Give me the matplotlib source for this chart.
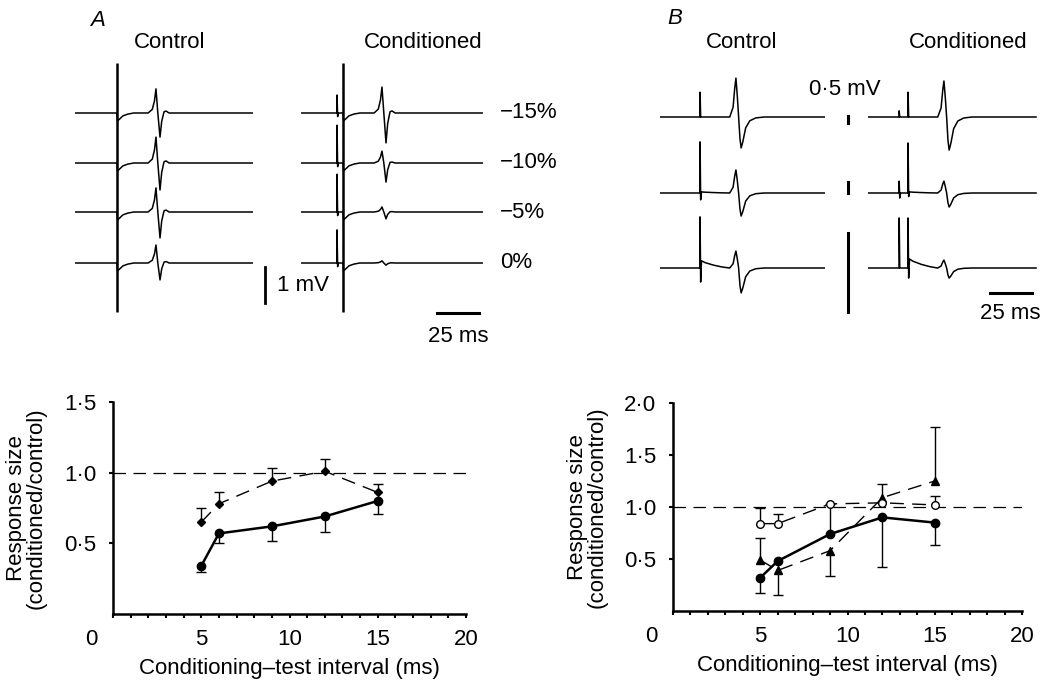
import matplotlib.pyplot as plt
import numpy as np
from matplotlib.ticker import FuncFormatter, MultipleLocator

plt.rcParams['font.family'] = ['Liberation Sans', 'DejaVu Sans']
plt.rcParams['font.size'] = 16

W, H = 1051, 681
MS_PX = 42 / 25   # px per ms (25 ms bar)
MV_PX = 36        # px per mV (1 mV bar)

## DATA: summary plots
intervals = [5, 6, 9, 12, 15]

# A: filled circles (solid line) and small diamonds (dashed line)
a_solid = [0.34, 0.57, 0.62, 0.69, 0.80]
a_solid_lo = [0.04, 0.07, 0.10, 0.11, 0.09]
a_solid_hi = [0.0, 0.0, 0.0, 0.0, 0.0]
a_dash = [0.65, 0.78, 0.94, 1.01, 0.86]
a_dash_lo = [0.0, 0.0, 0.0, 0.0, 0.0]
a_dash_hi = [0.10, 0.08, 0.09, 0.09, 0.06]

# B: filled circles, filled triangles, open circles
b_filled = [0.32, 0.48, 0.74, 0.90, 0.85]
b_filled_lo = [0.15, 0.0, 0.0, 0.48, 0.22]
b_filled_hi = [0.0, 0.0, 0.29, 0.0, 0.0]
b_tri = [0.49, 0.39, 0.58, 1.09, 1.25]
b_tri_lo = [0.0, 0.24, 0.24, 0.0, 0.0]
b_tri_hi = [0.21, 0.0, 0.0, 0.13, 0.52]
b_open = [0.84, 0.84, 1.03, 1.04, 1.02]
b_open_lo = [0.0, 0.0, 0.0, 0.0, 0.0]
b_open_hi = [0.15, 0.09, 0.0, 0.0, 0.09]

## DATA: traces (ms from sweep start, mV)
a_levels = ['\u221215%', '\u221210%', '\u22125%', '0%']
a_ctrl_up = [0.67, 0.72, 0.67, 0.50]
a_ctrl_down = [0.67, 0.75, 0.72, 0.47]
a_cond_up = [0.72, 0.33, 0.14, 0.06]
a_cond_down = [0.83, 0.53, 0.19, 0.06]
a_cond_art = [0.50, 1.05, 1.05, 0.92]   # conditioning artefact height

a_wave_t = [43.5, 46.0, 47.3, 48.2, 49.3, 50.6, 51.6, 53.0, 54.2, 56.0]
a_wave_v = [0, 0.15, 0.5, 1.0, 0, -1.0, -0.35, 0.05, 0.08, 0]
a_dip_t = [25.0, 25.3, 26.5, 28.5, 31.5, 35.0]
a_dip_v = [0, -0.22, -0.17, -0.08, -0.03, 0]

b_ctrl_art_up = [0.69, 1.42, 1.42]
b_ctrl_art_down = [0.0, 0.19, 0.39]
b_ctrl_tail = [0.0, 0.03, 0.20]
b_ctrl_up = [1.08, 0.64, 0.47]
b_ctrl_down = [0.86, 0.64, 0.69]
b_cond_pre_up = [0.17, 0.33, 1.39]
b_cond_pre_down = [0.0, 0.14, 0.0]
b_cond_art_up = [0.69, 1.39, 1.39]
b_cond_art_down = [0.0, 0.10, 0.28]
b_cond_tail = [0.0, 0.03, 0.25]
b_cond_up = [1.00, 0.33, 0.22]
b_cond_down = [0.92, 0.39, 0.28]

b_wave_t = [41.5, 43.5, 44.5, 45.2, 46.0, 46.8, 47.6, 48.3, 49.3, 51.0, 53.5, 57.0, 62.0]
b_wave_v = [0, 0.25, 0.75, 1.0, 0.55, 0, -0.7, -1.0, -0.8, -0.35, -0.12, -0.03, 0]
tail_dt = [0.9, 3.0, 8.0, 13.0, 17.5]
tail_f = [1.0, 0.75, 0.4, 0.15, 0.0]

fig = plt.figure(figsize=(W / 100, H / 100), dpi=100)


def px_axes(x0, y0, x1, y1):
    return fig.add_axes([x0 / W, 1 - y1 / H, (x1 - x0) / W, (y1 - y0) / H])


def trace_axes(x0, y0, x1, y1):
    ax = px_axes(x0, y0, x1, y1)
    ax.set_xlim(0, (x1 - x0) / MS_PX)
    ax.set_ylim(0, (y1 - y0) / MV_PX)
    ax.axis('off')
    return ax


def scaled(vals, up, down):
    return [v * up if v > 0 else v * down for v in vals]


def spike(t0, up, down, after=0.0):
    return [t0, t0 + 0.05, t0 + 0.4, t0 + 0.9], [0, up, -down, after]


def sweep(parts, t_end):
    t, v = [0.0], [0.0]
    for pt, pv in parts:
        t += list(pt)
        v += list(pv)
    t.append(t_end)
    v.append(0.0)
    return np.array(t), np.array(v)


def ftext(x, y, s, **kw):
    fig.text(x / W, 1 - y / H, s, **kw)


TR = dict(color='black', lw=1.1)

# ---------- A traces ----------
a_rows = [113, 163, 212, 263]
ax = trace_axes(75, 55, 253, 320)
for i, yb in enumerate(a_rows):
    base = (320 - yb) / MV_PX
    t, v = sweep([(a_dip_t, a_dip_v),
                  (a_wave_t, scaled(a_wave_v, a_ctrl_up[i], a_ctrl_down[i]))], 106)
    ax.plot(t, v + base, **TR)
ax.vlines(25, (320 - 312) / MV_PX, (320 - 63) / MV_PX, color='black', lw=1.8)
ax.plot([113, 113], [0.47, 1.47], color='black', lw=2.0, clip_on=False)
ax.text(120, 0.97, '1 mV', ha='left', va='center')

ax = trace_axes(301, 55, 483, 320)
for i, yb in enumerate(a_rows):
    base = (320 - yb) / MV_PX
    ct, cv = spike(21.4, a_cond_art[i], 0.1)
    t, v = sweep([(ct, cv), (a_dip_t, a_dip_v),
                  (a_wave_t, scaled(a_wave_v, a_cond_up[i], a_cond_down[i]))], 108)
    ax.plot(t, v + base, **TR)
    ax.text(118.5, base, a_levels[i], ha='left', va='center')
ax.vlines(25, (320 - 312) / MV_PX, (320 - 63) / MV_PX, color='black', lw=1.8)
ax.plot([81, 106], [0.19, 0.19], color='black', lw=2.2, clip_on=False)
ax.text(93.5, -0.45, '25 ms', ha='center', va='center')

ftext(98, 20, 'A', style='italic', ha='center', va='center')
ftext(170, 43, 'Control', ha='center', va='center')
ftext(423, 43, 'Conditioned', ha='center', va='center')

# ---------- B traces ----------
b_rows = [117, 193, 268]
ax = trace_axes(660, 55, 825, 320)
for i, yb in enumerate(b_rows):
    base = (320 - yb) / MV_PX
    at, av = spike(23.8, b_ctrl_art_up[i], b_ctrl_art_down[i], b_ctrl_tail[i])
    tt = [23.8 + d for d in tail_dt]
    tv = [b_ctrl_tail[i] * f for f in tail_f]
    t, v = sweep([(at, av), (tt[1:], tv[1:]),
                  (b_wave_t, scaled(b_wave_v, b_ctrl_up[i], b_ctrl_down[i]))], 98)
    ax.plot(t, v + base, **TR)
# 0.5 mV calibration bars (different gain per sweep)
for lo, hi in [(5.47, 5.67), (3.53, 3.83), (0.22, 2.42)]:
    ax.plot([112, 112], [lo, hi], color='black', lw=2.2, clip_on=False)
ax.text(110, 6.39, '0\u00b75 mV', ha='center', va='center')

ax = trace_axes(868, 55, 1037, 320)
for i, yb in enumerate(b_rows):
    base = (320 - yb) / MV_PX
    ct, cv = spike(18.5, b_cond_pre_up[i], b_cond_pre_down[i])
    at, av = spike(23.8, b_cond_art_up[i], b_cond_art_down[i], b_cond_tail[i])
    tt = [23.8 + d for d in tail_dt]
    tv = [b_cond_tail[i] * f for f in tail_f]
    t, v = sweep([(ct, cv), (at, av), (tt[1:], tv[1:]),
                  (b_wave_t, scaled(b_wave_v, b_cond_up[i], b_cond_down[i]))], 100)
    ax.plot(t, v + base, **TR)
ax.plot([72.6, 97.6], [0.75, 0.75], color='black', lw=2.2, clip_on=False)
ax.text(84.5, 0.19, '25 ms', ha='center', va='center')

ftext(675, 18, 'B', style='italic', ha='center', va='center')
ftext(742, 43, 'Control', ha='center', va='center')
ftext(968, 43, 'Conditioned', ha='center', va='center')


# ---------- summary plots ----------
def dot_fmt(v, pos):
    return ('%.1f' % v).replace('.', '\u00b7')


def style_axes(ax, ymax):
    ax.set_xlim(0, 20)
    ax.set_ylim(0, ymax)
    for s in ['top', 'right']:
        ax.spines[s].set_visible(False)
    for s in ['left', 'bottom']:
        ax.spines[s].set_linewidth(1.8)
    ax.set_xticks([5, 10, 15, 20])
    ax.xaxis.set_minor_locator(MultipleLocator(1))
    ax.set_yticks(np.arange(0.5, ymax + 0.01, 0.5))
    ax.yaxis.set_major_formatter(FuncFormatter(dot_fmt))
    ax.tick_params(which='both', direction='out', length=3, width=1.5)
    ax.tick_params(axis='x', pad=8)
    ax.tick_params(axis='y', pad=9)
    ax.text(-1.25, -0.07, '0', transform=ax.get_xaxis_transform(),
            ha='center', va='top')
    ax.axhline(1.0, color='black', lw=0.9, dashes=(10, 6))
    ax.set_xlabel('Conditioning\u2013test interval (ms)', labelpad=5.5)
    ax.set_ylabel('Response size\n(conditioned/control)', linespacing=0.95)
    ax.yaxis.set_label_coords(-0.187, 0.5)


def bars(ax, x, y, lo, hi):
    for xi, yi, l, h in zip(x, y, lo, hi):
        for end in ([yi - l] if l > 0 else []) + ([yi + h] if h > 0 else []):
            ax.vlines(xi, min(yi, end), max(yi, end), color='black', lw=1.0)
            ax.plot(xi, end, marker='_', ms=7, mew=1.0, color='black')


axA = px_axes(113, 402, 466, 614)
style_axes(axA, 1.5)
bars(axA, intervals, a_solid, a_solid_lo, a_solid_hi)
bars(axA, intervals, a_dash, a_dash_lo, a_dash_hi)
axA.plot(intervals, a_solid, color='black', lw=1.8, marker='o', ms=6, zorder=3)
axA.plot(intervals, a_dash, color='black', lw=1.0, dashes=(10, 6),
         marker='D', ms=4, zorder=3)

axB = px_axes(673, 403, 1022, 611)
style_axes(axB, 2.0)
bars(axB, intervals, b_filled, b_filled_lo, b_filled_hi)
bars(axB, intervals, b_tri, b_tri_lo, b_tri_hi)
bars(axB, intervals, b_open, b_open_lo, b_open_hi)
axB.plot(intervals, b_filled, color='black', lw=1.8, marker='o', ms=6, zorder=3)
axB.plot(intervals, b_tri, color='black', lw=1.0, dashes=(10, 6),
         marker='^', ms=5.5, zorder=3)
axB.plot(intervals, b_open, color='black', lw=1.0, dashes=(10, 6),
         marker='o', ms=5.5, mfc='white', mew=1.0, zorder=4)

fig.savefig('out.png', dpi=100)
